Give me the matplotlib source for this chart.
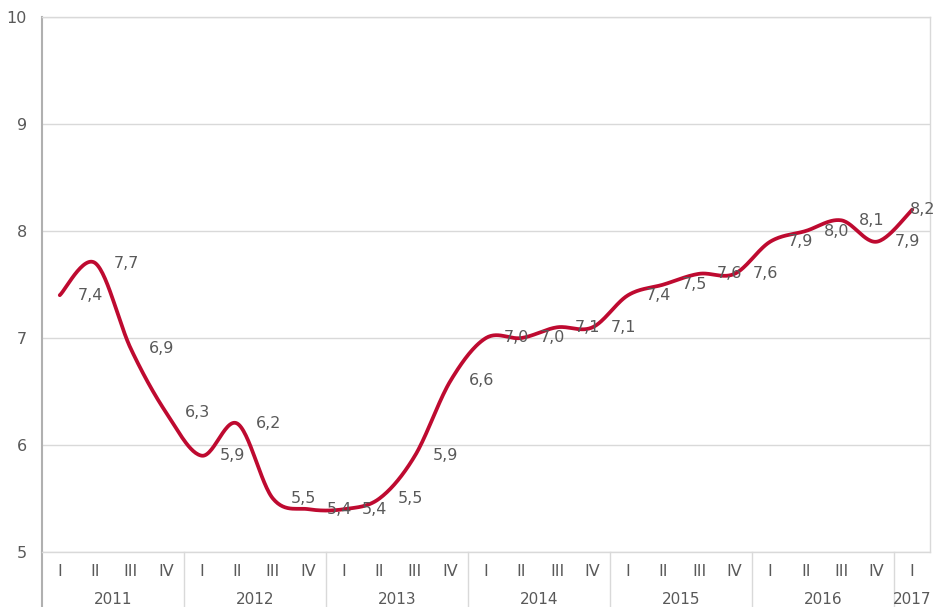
import numpy as np
import matplotlib
matplotlib.use('Agg')
import matplotlib.pyplot as plt
from matplotlib.transforms import blended_transform_factory

# dados
anos = ['2011', '2012', '2013', '2014', '2015', '2016', '2017']
trimestres = ['I', 'II', 'III', 'IV'] * 6 + ['I']
valores = [7.4, 7.7, 6.9, 6.3,
           5.9, 6.2, 5.5, 5.4,
           5.4, 5.5, 5.9, 6.6,
           7.0, 7.0, 7.1, 7.1,
           7.4, 7.5, 7.6, 7.6,
           7.9, 8.0, 8.1, 7.9,
           8.2]
rotulos = [f"{v:.1f}".replace('.', ',') for v in valores]

cor_linha = '#BE0A30'
cor_texto = '#595959'
cor_grade = '#D9D9D9'


def curva_suave(xs, ys, n=30):
    # bezier estilo Excel (catmull-rom)
    p = np.column_stack([xs, ys]).astype(float)
    p = np.vstack([p[0], p, p[-1]])
    out = []
    t = np.linspace(0, 1, n)[:, None]
    for i in range(1, len(p) - 2):
        p0, p1, p2, p3 = p[i - 1], p[i], p[i + 1], p[i + 2]
        c1 = p1 + (p2 - p0) / 6
        c2 = p2 - (p3 - p1) / 6
        seg = ((1 - t) ** 3) * p1 + 3 * ((1 - t) ** 2) * t * c1 + 3 * (1 - t) * t ** 2 * c2 + t ** 3 * p2
        out.append(seg if i == 1 else seg[1:])
    out = np.vstack(out)
    return out[:, 0], out[:, 1]


x = np.arange(len(valores))

fig = plt.figure(figsize=(9.36, 6.07), dpi=100)
ax = fig.add_axes([42 / 936, 55 / 607, 888 / 936, 535 / 607])

ax.set_xlim(-0.5, len(valores) - 0.5)
ax.set_ylim(5, 10)
ax.set_yticks([5, 6, 7, 8, 9, 10])
ax.set_xticks([])
ax.grid(axis='y', color=cor_grade, linewidth=1)
ax.set_axisbelow(True)
ax.tick_params(axis='y', length=0, pad=11, labelsize=11.5, labelcolor=cor_texto)

for lado in ['top', 'right', 'bottom']:
    ax.spines[lado].set_color(cor_grade)
    ax.spines[lado].set_linewidth(1)
ax.spines['left'].set_color('#B0B0B0')
ax.spines['left'].set_linewidth(1.5)

xs, ys = curva_suave(x, valores)
ax.plot(xs, ys, color=cor_linha, linewidth=2.7, solid_capstyle='round', zorder=3)

for i, (v, r) in enumerate(zip(valores, rotulos)):
    dx = 13 if i < len(valores) - 1 else -2
    ax.annotate(r, (i, v), xytext=(dx, 0), textcoords='offset points',
                ha='left', va='center', fontsize=11.5, color=cor_texto,
                annotation_clip=False, zorder=4)

# eixo de categorias em dois niveis
trans = blended_transform_factory(ax.transData, ax.transAxes)
h_ax = 535
for i, q in enumerate(trimestres):
    ax.text(i, -20 / h_ax, q, transform=trans, ha='center', va='center',
            fontsize=11.5, color=cor_texto, clip_on=False)

inicio = 0
for ano in anos:
    n = 1 if ano == '2017' else 4
    ax.text(inicio + (n - 1) / 2, -48 / h_ax, ano, transform=trans, ha='center', va='center',
            fontsize=11, color=cor_texto, clip_on=False)
    ax.plot([inicio - 0.5, inicio - 0.5], [0, -60 / h_ax], transform=trans,
            color=cor_grade if inicio > 0 else '#B0B0B0',
            linewidth=1 if inicio > 0 else 1.5, clip_on=False)
    inicio += n

fig.savefig('out.png', dpi=100)
